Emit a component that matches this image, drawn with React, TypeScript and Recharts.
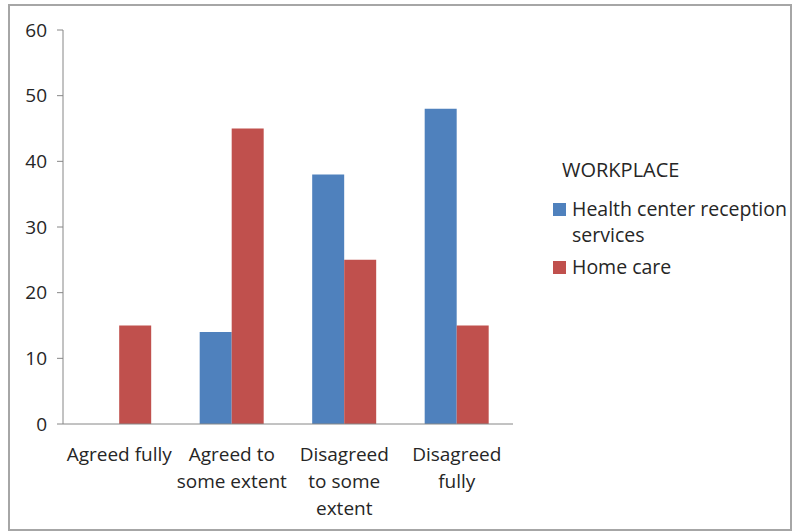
import React from "react";
import { BarChart, Bar, XAxis, YAxis, Legend } from "recharts";

const categories = ["Agreed fully", "Agreed to\nsome extent", "Disagreed\nto some\nextent", "Disagreed\nfully"];
const healthCenter = [0, 14, 38, 48];
const homeCare = [15, 45, 25, 15];
const yTicks = [0, 10, 20, 30, 40, 50, 60];
const boundaryTicks = [0, 1, 2, 3, 4];
const seriesNames = ["Health center reception services", "Home care"];
const legendTitle = "WORKPLACE";

const data = categories.map((c, i) => ({ name: c, pos: i + 0.5, hc: healthCenter[i], home: homeCare[i] }));

const FONT = "'Open Sans', sans-serif";
const TXT = "#262626";
const AX = "#868686";

const XTick = (props: any) => {
  const { x, y, payload } = props;
  const lines = String(payload.value).split("\n");
  return (
    <text x={x} y={y} textAnchor="middle" fill={TXT} fontFamily={FONT} fontSize={19}>
      {lines.map((l, i) => (
        <tspan key={i} x={x} dy={i === 0 ? 28 : 27}>{l}</tspan>
      ))}
    </text>
  );
};

const LegendContent = (props: any) => {
  const payload = props.payload || [];
  return (
    <div style={{ fontFamily: FONT, color: TXT }}>
      <div style={{ fontSize: 20, lineHeight: "28px", marginLeft: 9, marginBottom: 12 }}>{legendTitle}</div>
      {payload.map((p: any, i: number) => (
        <div key={i} style={{ display: "flex", alignItems: "flex-start", marginBottom: 6 }}>
          <span style={{ display: "inline-block", width: 13, height: 13, background: p.color, marginTop: 7, marginRight: 6, flex: "none" }} />
          <span style={{ fontSize: 19.5, lineHeight: "26px", width: 225, whiteSpace: "normal" }}>{p.value}</span>
        </div>
      ))}
    </div>
  );
};

export default function App() {
  return (
    <div style={{ position: "absolute", left: 0, top: 0, width: 793, height: 532 }}>
      <div style={{ position: "absolute", left: 8, top: 4, width: 784, height: 527, border: "2px solid #a6a6a6", boxSizing: "border-box" }} />
      <BarChart
        width={793}
        height={532}
        data={data}
        margin={{ top: 30, right: 40, bottom: 106, left: 23 }}
        barCategoryGap="21.5%"
        barGap={0}
        style={{ position: "absolute", left: 0, top: 0 }}
      >
        <XAxis xAxisId="b" type="number" dataKey="pos" domain={[0, 4]} ticks={boundaryTicks} tick={false} tickLine={{ stroke: AX }} tickSize={7} axisLine={{ stroke: AX }} height={1} />
        <XAxis xAxisId="cat" dataKey="name" tick={<XTick />} tickLine={false} axisLine={false} interval={0} height={1} />
        <YAxis
          domain={[0, 60]}
          ticks={yTicks}
          width={40}
          tickSize={6}
          tickLine={{ stroke: AX }}
          axisLine={{ stroke: AX }}
          tick={{ fill: TXT, fontFamily: FONT, fontSize: 19 }}
          tickMargin={10}
        />
        <Legend
          layout="vertical"
          align="right"
          verticalAlign="top"
          width={240}
          content={<LegendContent />}
          wrapperStyle={{ left: 553, top: 156, right: "auto" }}
        />
        <Bar xAxisId="cat" dataKey="hc" name={seriesNames[0]} fill="#4F81BD" isAnimationActive={false} />
        <Bar xAxisId="cat" dataKey="home" name={seriesNames[1]} fill="#C0504D" isAnimationActive={false} />
      </BarChart>
    </div>
  );
}
